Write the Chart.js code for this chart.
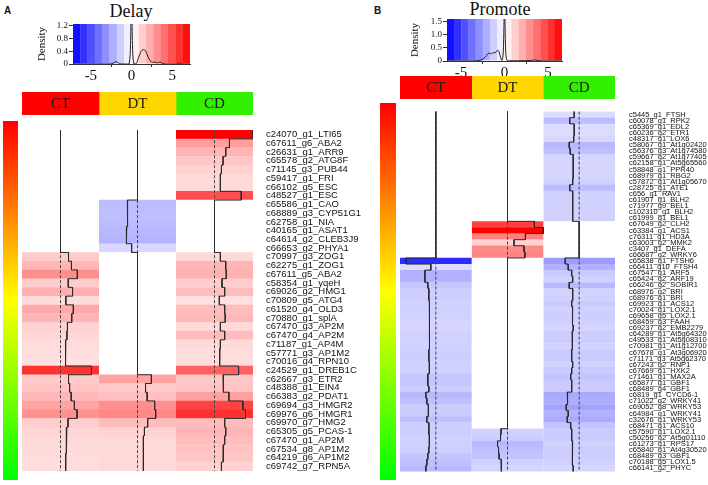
<!DOCTYPE html>
<html><head><meta charset="utf-8">
<script src="https://cdn.jsdelivr.net/npm/chart.js@4.4.1/dist/chart.umd.min.js"></script>
<style>
body{margin:0;width:708px;height:485px;position:relative;background:#fff;overflow:hidden;font-family:"Liberation Sans",Arial,sans-serif}
canvas{position:absolute;display:block}
.txt{position:absolute;white-space:nowrap}
.title{font-family:"Liberation Serif","DejaVu Serif",serif;font-size:18px;color:#111;text-align:center;line-height:20px}
.panel{font-weight:bold;font-size:10px;color:#111}
</style></head><body>
<div class="txt panel" style="left:4px;top:5px">A</div>
<div class="txt title" style="left:81px;width:100px;top:1px">Delay</div>
<div class="txt panel" style="left:374px;top:5px">B</div>
<div class="txt title" style="left:450px;width:100px;top:-1px">Promote</div>

<canvas id="keyA" width="164" height="72" style="left:36px;top:17px"></canvas>
<canvas id="keyB" width="163" height="72" style="left:409px;top:12px"></canvas>
<canvas id="hdrA" width="231" height="23" style="left:22px;top:92px"></canvas>
<canvas id="hdrB" width="215" height="23" style="left:400px;top:76px"></canvas>
<canvas id="sideA" width="15" height="359" style="left:3px;top:121px"></canvas>
<canvas id="sideB" width="16" height="377" style="left:380px;top:103px"></canvas>
<canvas id="heatA" width="341" height="371" style="left:22px;top:115px"></canvas>
<canvas id="heatB" width="308" height="387" style="left:400px;top:98px"></canvas>

<script>
// ---------------- DATA ----------------
const columns = ['CT', 'DT', 'CD'];
const columnColors = ['#ff0000', '#ffd700', '#33f000'];

const genesA = ['c24070_g1_LTI65','c67611_g6_ABA2','c26631_g1_ARR9','c65578_g2_ATG8F','c71145_g3_PUB44','c59417_g1_FRI','c66102_g5_ESC','c48527_g1_ESC','c65586_g1_CAO','c68889_g3_CYP51G1','c62758_g1_NIA','c40165_g1_ASAT1','c64614_g2_CLEB3J9','c66653_g2_PHYA1','c70997_g3_ZOG1','c62275_g1_ZOG1','c67611_g5_ABA2','c58354_g1_yqeH','c69026_g2_HMG1','c70809_g5_ATG4','c61520_g4_OLD3','c70880_g1_splA','c67470_g3_AP2M','c67470_g4_AP2M','c71187_g1_AP4M','c57771_g3_AP1M2','c70016_g4_RPN10','c24529_g1_DREB1C','c62667_g3_ETR2','c48388_g1_EIN4','c66383_g2_PDAT1','c69694_g3_HMGR2','c69976_g6_HMGR1','c69970_g7_HMG2','c65305_g5_PCAS-1','c67470_g1_AP2M','c67534_g8_AP1M2','c64219_g6_AP1M2','c69742_g7_RPN5A'];
const ctA = [0,0,0,0,0,0,0,0,0,0,0,0,0,0, 1.5,2.05,3.15,1.45,2.25,1.0,2.4,2.1,1.3,1.2, 1.0,0.95,0.9,5.8,1.5,1.7,2.0,2.6,3.1,1.4,1.2,1.1,1.05,1.0,0.95];
const dtA = [0,0,0,0,0,0,0,0, -1.9,-1.8,-1.9,-2.0,-2.1,-1.1, 0,0,0,0,0,0,0,0,0,0,0,0,0,0, 2.6,1.5,1.8,3.2,3.4,1.9,1.3,1.1,1.1,1.1,1.1];
const cdA = [7.2,2.8,2.1,1.6,1.3,1.1,1.1,5.0, 0,0,0,0,0,0, 1.1,2.1,2.2,1.4,1.9,0.9,1.9,2.0,1.1,1.9, 1.1,1.0,0.95,4.5,1.6,1.7,2.7,5.3,5.8,1.9,2.1,1.9,1.7,1.6,1.3];

const genesB = ['c5445_g1_FTSH','c60078_g1_RPK2','c65369_g1_EDL2','c60236_g2_ETR1','c48317_g1_LOX6','c58067_g1_At1g02420','c56376_g3_At1g74580','c59667_g2_At1g77405','c62158_g1_At5g65560','c58848_g1_PPR40','c68979_g1_RBG2','c57872_g1_At1g05670','c28725_g1_ATE1','c656_g1_RAV1','c61907_g1_BLH2','c71977_g9_BEL1','c102310_g1_BLH2','c61999_g1_BEL1','c67649_g2_CLH2','c63384_g1_ACS1','c76311_g1_HD3A','c63003_g2_MMK2','c3407_g1_DEFA','c66687_g2_WRKY6','c65838_g1_FTSH6','c66411_g10_FTSH4','c67547_g1_ARF5','c65424_g2_ARF19','c66246_g2_SOBIR1','c68976_g2_BRI','c68976_g1_BRI','c69923_g1_ACS12','c70024_g1_LOX2.1','c69658_g5_LOX2.1','c68459_g3_FAAH','c69237_g2_EMB2279','c64289_g1_At5g64320','c49533_g1_At5g08310','c70981_g1_At1g12700','c67678_g1_At3g06920','c71171_g3_At5g62370','c67243_g2_RNP1','c67669_g1_HXK2','c71461_g1_MAX2A','c65877_g1_GBF1','c68489_g4_GBF1','c6819_g1_CYCD6-1','c71022_g2_WRKY41','c69052_g8_WRKY53','c64984_g1_WRKY41','c32676_g1_WRKY53','c68471_g1_ACS10','c57590_g1_LOX2.1','c50256_g2_At5g01110','c61273_g1_RPS17','c65840_g1_At4g30520','c68489_g3_GBF1','c70188_g5_LOX1.5','c66141_g2_PHYC'];
const ctB = [0,0,0,0,0,0,0,0,0,0,0,0,0,0,0,0,0,0,0,0,0,0,0,0,
  -6.0,-1.0,-2.2,-2.2,-1.6,-1.4,-1.4,-1.3,-1.3,-1.3,-1.2,-1.2,-1.3,-1.3,-1.3,-1.4,-1.4,-1.3,-1.3,-1.6,-1.6,-1.4,-2.0,-1.8,-1.5,-1.5,-1.8,-1.4,-1.4,-1.3,-1.3,-1.4,-1.6,-1.8,-2.0];
const dtB = [0,0,0,0,0,0,0,0,0,0,0,0,0,0,0,0,0,0, 5.4,7.2,3.6,1.3,3.3,3.5,
  0,0,0,0,0,0,0,0,0,0,0,0,0,0,0,0,0,0,0,0,0,0,0,0,0,0,0,0, -1.3,-1.4,-2.0,-1.8,-1.7,-1.3,-1.2];
const cdB = [-1.0,-1.9,-1.0,-1.0,-1.1,-2.0,-1.8,-1.2,-1.2,-1.2,-1.2,-1.3,-1.9,-1.3,-1.3,-1.3,-1.3,-1.3, 0,0,0,0,0,0,
  -2.8,-2.2,-1.5,-1.3,-2.0,-1.3,-1.3,-1.5,-1.3,-1.4,-1.3,-1.2,-1.4,-1.4,-1.3,-1.5,-1.5,-1.3,-1.5,-1.7,-1.5,-1.5,-2.4,-2.3,-2.6,-2.2,-2.4,-1.7,-1.5,-1.5,-1.3,-1.4,-1.4,-1.3,-1.2];

const keyTicksX = [-5, 0, 5];
const densityTicksA = [0, 0.4, 0.8, 1.2];
const densityTicksB = [0, 0.5, 1.0, 1.5];
const densityA = [[-7.2,0],[-4,0],[-2.6,0],[-2.2,0.03],[-1.9,0.07],[-1.6,0.03],[-1.3,0],[-0.6,0],[-0.3,0],[-0.12,0.6],[0,2.5],[0.12,0.6],[0.3,0],[0.6,0.02],[0.8,0.15],[1.1,0.35],[1.4,0.45],[1.7,0.42],[2.0,0.25],[2.3,0.1],[2.6,0.05],[2.9,0.06],[3.2,0.03],[3.5,0.06],[3.8,0.02],[4.3,0],[5.5,0],[5.9,0.03],[6.3,0],[7.2,0]];
const densityB = [[-6.6,0],[-4,0],[-3.2,0.01],[-2.6,0.05],[-2.2,0.15],[-1.9,0.28],[-1.7,0.3],[-1.5,0.27],[-1.3,0.33],[-1.1,0.3],[-0.9,0.38],[-0.7,0.4],[-0.5,0.2],[-0.3,0.02],[-0.15,0.3],[0,2.0],[0.15,0.3],[0.3,0.02],[0.6,0.01],[1.5,0.01],[3,0.02],[3.4,0.04],[3.8,0.02],[4.5,0],[6.6,0]];

// ---------------- HELPERS ----------------
const SERIF = '"Liberation Serif","DejaVu Serif",serif';
const SANS = '"Liberation Sans",Arial,sans-serif';
Chart.defaults.animation = false;
Chart.defaults.responsive = false;
Chart.defaults.devicePixelRatio = 1;
Chart.defaults.plugins.legend.display = false;
Chart.defaults.plugins.tooltip.enabled = false;

function heatColor(v, R) {
  const f = Math.min(1, Math.abs(v) / R);
  const c = Math.round(255 * (1 - f));
  return v >= 0 ? `rgb(255,${c},${c})` : `rgb(${c},${c},255)`;
}

function keyChart(id, R, yMax, yTicks, dens, yAxisW, xAxisH, padTop) {
  const nb = 16, w = 2 * R / nb;
  const centers = Array.from({length: nb}, (_, i) => -R + w * (i + 0.5));
  new Chart(document.getElementById(id), {
    type: 'bar',
    data: { datasets: [
      { type: 'bar', data: centers.map(c => ({x: c, y: [0, yMax]})), backgroundColor: centers.map(c => heatColor(c, R)),
        borderWidth: 0, barPercentage: 1.04, categoryPercentage: 1, order: 2 },
      { type: 'line', data: dens.map(([x, y]) => ({x, y})), borderColor: '#222', borderWidth: 1, pointRadius: 0, tension: 0.35, order: 1 }
    ]},
    options: {
      layout: { padding: { top: padTop, right: 10, left: 0, bottom: 0 } },
      scales: {
        x: { type: 'linear', min: -R, max: R, offset: false,
             grid: { display: true, drawOnChartArea: false, tickLength: 3, color: '#333' },
             border: { display: true, color: '#333' },
             afterBuildTicks: s => { s.ticks = keyTicksX.map(v => ({value: v})); },
             ticks: { font: { family: SERIF, size: 15 }, color: '#111', padding: 0, maxRotation: 0, autoSkip: false },
             afterFit: s => { s.height = xAxisH; } },
        y: { type: 'linear', min: 0, max: yMax,
             grid: { display: true, drawOnChartArea: false, tickLength: 4, color: '#333' },
             border: { display: true, color: '#333' },
             afterBuildTicks: s => { s.ticks = yTicks.map(v => ({value: v})); },
             ticks: { font: { family: SERIF, size: 9 }, color: '#111', padding: 1, autoSkip: false,
                      callback: v => v === 0 ? '0' : v.toFixed(1) },
             title: { display: true, text: 'Density', font: { family: SERIF, size: 11 }, color: '#111', padding: 0 },
             afterFit: s => { s.width = yAxisW; } }
      }
    }
  });
}

const headerLabels = {
  id: 'headerLabels',
  afterDatasetsDraw(chart) {
    const ctx = chart.ctx;
    ctx.save();
    ctx.font = '15px ' + SERIF;
    ctx.fillStyle = '#1a1a1a';
    ctx.textAlign = 'center';
    ctx.textBaseline = 'middle';
    chart.data.datasets.forEach((ds, i) => {
      const el = chart.getDatasetMeta(i).data[0];
      const p = el.getCenterPoint();
      ctx.fillText(ds.label, p.x, p.y + 1);
    });
    ctx.restore();
  }
};

function headerChart(id) {
  new Chart(document.getElementById(id), {
    type: 'bar',
    data: { labels: ['group'], datasets: columns.map((c, i) => ({
      label: c, data: [[i, i + 1]], backgroundColor: columnColors[i], borderWidth: 0,
      barPercentage: 1, categoryPercentage: 1, grouped: false })) },
    options: { indexAxis: 'y', layout: { padding: 0 },
      scales: { x: { type: 'linear', min: 0, max: 3, display: false }, y: { display: false } } },
    plugins: [headerLabels]
  });
}

function sideChart(id) {
  new Chart(document.getElementById(id), {
    type: 'bar',
    data: { labels: ['side'], datasets: [{ data: [[0, 1]], borderWidth: 0, barPercentage: 1, categoryPercentage: 1,
      backgroundColor: ctx => {
        const a = ctx.chart.chartArea;
        if (!a) return '#f00';
        const g = ctx.chart.ctx.createLinearGradient(0, a.top, 0, a.bottom);
        g.addColorStop(0, '#ff0000'); g.addColorStop(0.5, '#ffff00'); g.addColorStop(1, '#00ff00');
        return g;
      } }] },
    options: { layout: { padding: 0 }, scales: { x: { display: false }, y: { display: false, min: 0, max: 1 } } }
  });
}

function heatChart(id, genes, vals, R, fontSize, pad, axisW, padTB) {
  const n = genes.length;
  const datasets = [];
  vals.forEach((col, c) => {
    datasets.push({ type: 'bar', label: columns[c], data: col.map((v, i) => ({x: [c, c + 1], y: i + 0.5})),
      backgroundColor: col.map(v => heatColor(v, R)), borderWidth: 0, barPercentage: 1.05, categoryPercentage: 1,
      grouped: false, order: 3 });
  });
  vals.forEach((col, c) => {
    const mid = c + 0.5;
    datasets.push({ type: 'line', data: [{x: mid, y: 0}, {x: mid, y: n}], borderColor: '#444', borderWidth: 1,
      borderDash: [3, 2], pointRadius: 0, order: 2 });
    const pts = [];
    col.forEach((v, i) => { const x = mid + v / (2 * R); pts.push({x, y: i}, {x, y: i + 1}); });
    datasets.push({ type: 'line', data: pts, borderColor: '#2a2a2a', borderWidth: 1, pointRadius: 0, order: 1 });
  });
  new Chart(document.getElementById(id), {
    type: 'bar',
    data: { datasets },
    options: {
      indexAxis: 'y',
      layout: { padding: { top: padTB, bottom: padTB, left: 0, right: 0 } },
      scales: {
        x: { type: 'linear', min: 0, max: 3, display: false },
        y: { type: 'linear', reverse: true, min: 0, max: n, position: 'right',
             grid: { display: false }, border: { display: false },
             afterBuildTicks: s => { s.ticks = genes.map((g, i) => ({value: i + 0.5})); },
             ticks: { autoSkip: false, padding: pad, color: '#111', font: { family: SANS, size: fontSize },
                      callback: (v, i) => genes[i] },
             afterFit: s => { s.width = axisW; } }
      }
    }
  });
}

// ---------------- BUILD ----------------
keyChart('keyA', 7.2, 1.25, densityTicksA, densityA, 37, 25, 7);
keyChart('keyB', 6.6, 1.6, densityTicksB, densityB, 38, 23, 7);
headerChart('hdrA');
headerChart('hdrB');
sideChart('sideA');
sideChart('sideB');
heatChart('heatA', genesA, [ctA, dtA, cdA], 7.2, 9.5, 5, 110, 6);
heatChart('heatB', genesB, [ctB, dtB, cdB], 7.2, 7.5, 6, 93, 5);
</script>
</body></html>
